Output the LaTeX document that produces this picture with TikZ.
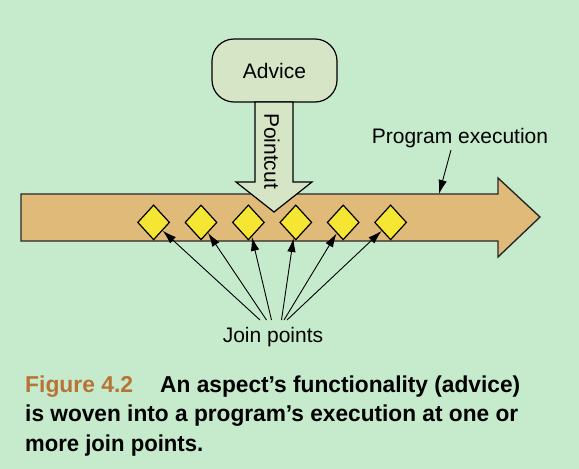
\documentclass[tikz,border=0pt]{standalone}
\usepackage{fontspec}
\setmainfont{Liberation Sans}
\usetikzlibrary{shapes.geometric,arrows.meta}
\definecolor{bg}{RGB}{197,235,204}
\definecolor{flow}{RGB}{224,186,120}
\definecolor{jp}{RGB}{245,230,52}
\definecolor{adv}{RGB}{214,229,198}
\definecolor{figc}{RGB}{184,116,54}
\definecolor{edge}{RGB}{40,40,40}
\tikzset{
  lbl/.style={font=\fontsize{21}{25}\selectfont, inner sep=0pt},
  capt/.style={font=\fontsize{23}{27}\selectfont\bfseries, inner sep=0pt, anchor=base west},
  jpoint/.style={diamond, draw=black, line width=1.2pt, fill=jp, minimum width=32pt, minimum height=35pt, inner sep=0pt},
  ptr/.style={-{Latex[length=14pt,width=8.5pt]}, line width=0.9pt},
  advbox/.style={draw=black, line width=1.2pt, fill=adv, rounded corners=22pt, minimum width=125pt, minimum height=63pt, inner sep=0pt, font=\fontsize{21}{25}\selectfont},
  flowshape/.style={draw=edge, line width=1.4pt, fill=flow, line join=miter},
  cutshape/.style={draw=black, line width=1.2pt, fill=adv, line join=miter}
}
\begin{document}
\begin{tikzpicture}[x=1pt,y=-1pt]
\fill[bg] (0,0) rectangle (579,469);
\useasboundingbox (0,0) rectangle (579,469);
% program execution arrow
\draw[flowshape] (21,194) -- (498,194) -- (498,178) -- (540,217) -- (498,257) -- (498,241) -- (21,241) -- cycle;
\coordinate (flowtop) at (439,194);
% advice and pointcut
\node[advbox] (advice) at (274.5,70.5) {Advice};
\draw[cutshape] (255,102) -- (293,102) -- (293,182) -- (312,182) -- (274,212) -- (236,182) -- (255,182) -- cycle;
\node[lbl, rotate=-90] (pointcut) at (272,151) {Pointcut};
% join points
\foreach \i in {1,...,6}{
  \node[jpoint] (d\i) at ({153.6+47.4*(\i-1)},222.4) {};
}
\node[lbl, anchor=base] (joinlbl) at (273,342) {Join points};
\coordinate (j1) at (260,320);
\coordinate (j2) at (266.5,320);
\coordinate (j3) at (271.5,320);
\coordinate (j4) at (281.5,320);
\coordinate (j5) at (284,320);
\coordinate (j6) at (287,320);
\foreach \i in {1,...,6}{
  \draw[ptr] (j\i) -- (d\i);
}
% program execution label
\node[lbl, anchor=base] (proglbl) at (460,143) {Program execution};
\coordinate (progstart) at (451,150);
\draw[ptr] (progstart) -- (flowtop);
% caption
\node[capt, text=figc] (fig) at (25,392) {\resizebox{108pt}{\height}{Figure 4.2}};
\node[capt] (cap1) at (160,392) {\resizebox{360pt}{\height}{An aspect’s functionality (advice)}};
\node[capt] (cap2) at (25,421.5) {\resizebox{493pt}{\height}{is woven into a program’s execution at one or}};
\node[capt] (cap3) at (25,451) {\resizebox{178pt}{\height}{more join points.}};
\end{tikzpicture}
\end{document}
